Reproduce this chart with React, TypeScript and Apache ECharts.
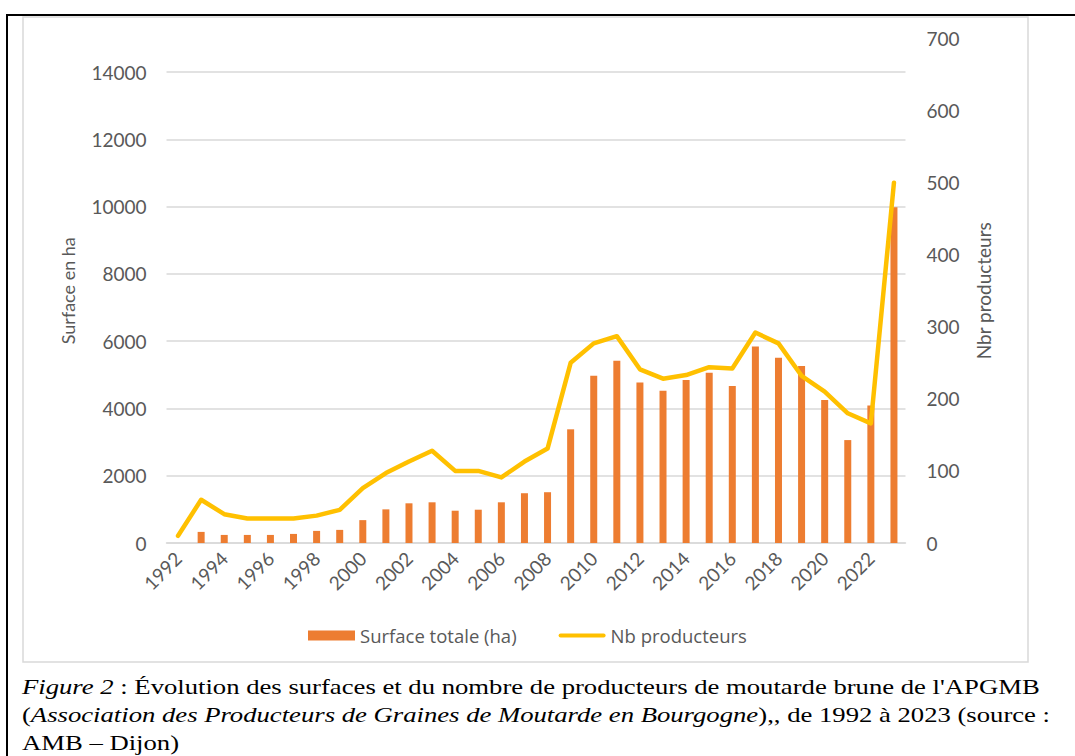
import React, { useEffect, useRef } from 'react';
import * as echarts from 'echarts';

const years = ['1992', '1993', '1994', '1995', '1996', '1997', '1998', '1999', '2000', '2001', '2002', '2003', '2004', '2005', '2006', '2007', '2008', '2009', '2010', '2011', '2012', '2013', '2014', '2015', '2016', '2017', '2018', '2019', '2020', '2021', '2022', '2023'];

const surfaceHa = [null, 330, 240, 240, 240, 270, 360, 390, 680, 1000, 1180, 1210, 960, 990, 1210, 1480, 1510, 3380, 4970, 5420, 4770, 4530, 4850, 5060, 4670, 5840, 5510, 5260, 4250, 3060, 4090, 9980];

const producers = [10, 60, 40, 34, 34, 34, 38, 46, 76, 97, 113, 128, 100, 100, 91, 113, 131, 250, 277, 287, 241, 228, 233, 244, 242, 292, 277, 232, 210, 180, 166, 500];

const seriesNames = ['Surface totale (ha)', 'Nb producteurs'];
const axisNames = ['Surface en ha', 'Nbr producteurs'];
const captionLines = [
  '{i|Figure 2} : Évolution des surfaces et du nombre de producteurs de moutarde brune de l\'APGMB',
  '({i|Association des Producteurs de Graines de Moutarde en Bourgogne}),, de 1992 à 2023 (source :',
  'AMB – Dijon)',
];

const GRAY_TEXT = '#595959';
const GRID_GRAY = '#D9D9D9';
const FONT = 'Lato';

export default function App() {
  const ref = useRef<HTMLDivElement>(null);
  useEffect(() => {
    const chart = echarts.init(ref.current!, null, { renderer: 'svg' });
    const serif = '"Liberation Serif", "Times New Roman", serif';
    const captionStyle = {
      fontFamily: serif,
      fontSize: 21,
      fill: '#000',
      verticalAlign: 'middle' as const,
      rich: {
        i: { fontFamily: serif, fontSize: 21, fontStyle: 'italic', fill: '#000' },
      },
    };
    const capScale = 1.27;
    chart.setOption({
      animation: false,
      backgroundColor: '#fff',
      grid: { left: 166.5, right: 169.5, top: 38.5, bottom: 213, outerBoundsMode: 'none' },
      legend: {
        left: 303,
        top: 621,
        itemWidth: 47,
        itemHeight: 10,
        itemGap: 42,
        selectedMode: false,
        textStyle: { fontFamily: 'Open Sans', fontSize: 18.5, color: GRAY_TEXT },
        data: [
          { name: seriesNames[0], icon: 'rect' },
          { name: seriesNames[1], icon: 'path://M2,0 L45,0 A2,2 0 0 1 45,4 L2,4 A2,2 0 0 1 2,0 Z' },
        ],
      },
      xAxis: {
        type: 'category',
        data: years,
        axisLine: { lineStyle: { color: GRID_GRAY, width: 1.5 } },
        axisTick: { show: false },
        axisLabel: { interval: 1, rotate: 45, margin: 12, fontFamily: FONT, fontSize: 19, color: GRAY_TEXT },
      },
      yAxis: [
        {
          type: 'value',
          min: 0,
          max: 15000,
          interval: 2000,
          name: axisNames[0],
          nameLocation: 'middle',
          nameGap: 90,
          nameRotate: 90,
          nameTextStyle: { fontFamily: FONT, fontSize: 18, color: GRAY_TEXT },
          axisLine: { show: false },
          axisTick: { show: false },
          axisLabel: {
            showMaxLabel: false,
            margin: 20,
            fontFamily: FONT,
            fontSize: 19,
            color: GRAY_TEXT,
            formatter: (v: number) => String(v),
          },
          splitLine: { show: true, showMaxLine: false, lineStyle: { color: GRID_GRAY, width: 1.5 } },
        },
        {
          type: 'value',
          min: 0,
          max: 700,
          interval: 100,
          position: 'right',
          name: axisNames[1],
          nameLocation: 'middle',
          nameGap: 68,
          nameRotate: 90,
          nameTextStyle: { fontFamily: FONT, fontSize: 19, color: GRAY_TEXT },
          axisLine: { show: false },
          axisTick: { show: false },
          axisLabel: { margin: 21, fontFamily: FONT, fontSize: 19, color: GRAY_TEXT },
          splitLine: { show: false },
        },
      ],
      series: [
        {
          name: seriesNames[0],
          type: 'bar',
          data: surfaceHa,
          barWidth: 7,
          itemStyle: { color: '#ED7D31' },
          yAxisIndex: 0,
          z: 2,
        },
        {
          name: seriesNames[1],
          type: 'line',
          data: producers,
          yAxisIndex: 1,
          symbol: 'none',
          lineStyle: { color: '#FFC000', width: 4.5, cap: 'round', join: 'round' },
          itemStyle: { color: '#FFC000' },
          z: 3,
        },
      ],
      graphic: [
        { type: 'rect', shape: { x: 23, y: 17, width: 1005, height: 645 }, style: { fill: 'none', stroke: GRID_GRAY, lineWidth: 1.5 }, z: -1 },
        { type: 'line', shape: { x1: 6, y1: 15, x2: 1075, y2: 15 }, style: { stroke: '#000', lineWidth: 2 } },
        { type: 'line', shape: { x1: 7, y1: 14, x2: 7, y2: 756 }, style: { stroke: '#000', lineWidth: 2 } },
        { type: 'text', x: 22, y: 687, scaleX: capScale, style: { ...captionStyle, text: captionLines[0] } },
        { type: 'text', x: 22, y: 715, scaleX: capScale, style: { ...captionStyle, text: captionLines[1] } },
        { type: 'text', x: 22, y: 743, scaleX: capScale, style: { ...captionStyle, text: captionLines[2] } },
      ],
    });
    return () => chart.dispose();
  }, []);
  return (
    <div
      ref={ref}
      style={{ position: 'absolute', left: 0, top: 0, width: 1075, height: 756, background: '#fff' }}
    />
  );
}
